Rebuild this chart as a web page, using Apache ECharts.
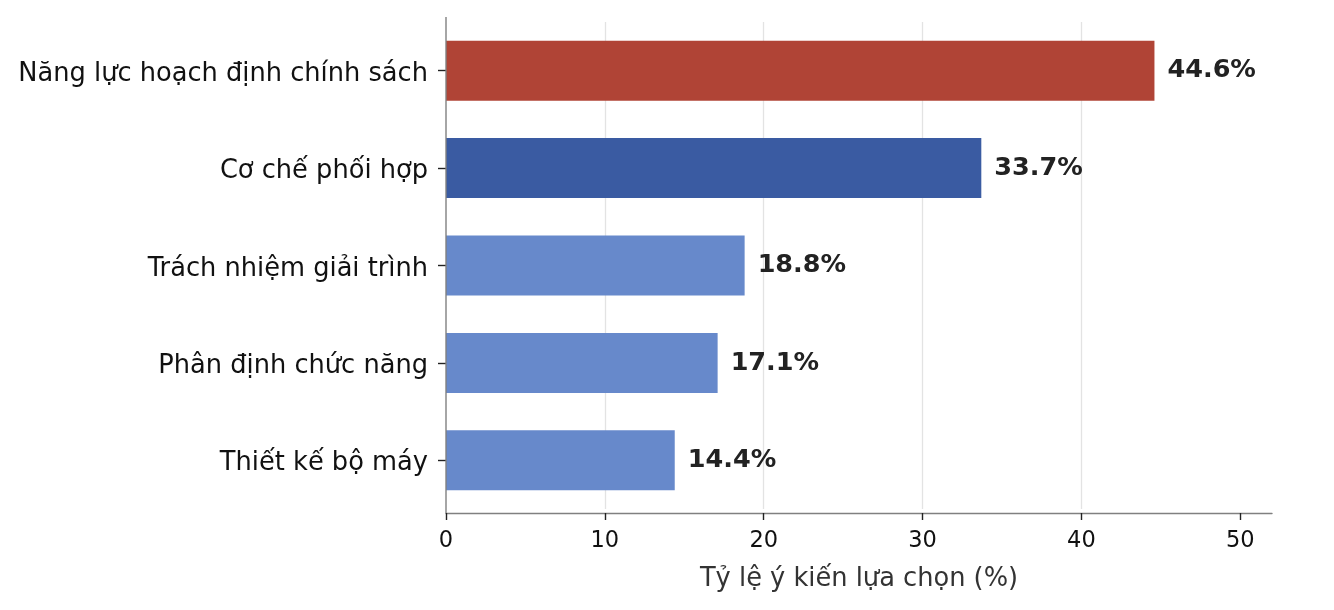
<!DOCTYPE html>
<html><head><meta charset="utf-8">
<script src="https://cdn.jsdelivr.net/npm/echarts@6/dist/echarts.min.js"></script>
<style>html,body{margin:0;padding:0;background:#fff}#c{width:1334px;height:610px}</style>
</head><body><div id="c"></div>
<script>
const categories = ["Năng lực hoạch định chính sách","Cơ chế phối hợp","Trách nhiệm giải trình","Phân định chức năng","Thiết kế bộ máy"];
const values = [44.6, 33.7, 18.8, 17.1, 14.4];
const barColors = ["#B04436","#3A5BA2","#6789CB","#6789CB","#6789CB"];
const xTicks = [0,10,20,30,40,50];
const xTitle = "Tỷ lệ ý kiến lựa chọn (%)";
const F = "DejaVu Sans";
const G = {left:446, right:62, top:22, bottom:101};
const chart = echarts.init(document.getElementById('c'), null, {renderer:'canvas'});
chart.setOption({
  animation:false,
  grid:{left:G.left, right:G.right, top:G.top, bottom:G.bottom, containLabel:false},
  xAxis:{type:'value', min:0, max:52, interval:10, offset:4,
    axisLine:{show:true, lineStyle:{color:'#808080', width:1.4}},
    axisTick:{show:true, length:7, customValues:xTicks, lineStyle:{color:'#222', width:1.4}},
    axisLabel:{color:'#111', fontFamily:F, fontSize:22.5, margin:17, customValues:xTicks},
    splitLine:{show:true, showMaxLine:false, showMinLine:false, lineStyle:{color:'#e3e3e3', width:1.3}},
    name:xTitle, nameLocation:'middle', nameGap:53,
    nameTextStyle:{color:'#333', fontFamily:F, fontSize:25.7}
  },
  yAxis:{type:'category', data:categories, inverse:true,
    axisLine:{show:false},
    axisTick:{show:true, alignWithLabel:true, length:8, lineStyle:{color:'#222', width:1.4}},
    axisLabel:{margin:18, formatter:v=>'{a|'+v+'}',
      rich:{a:{color:'#111', fontFamily:F, fontSize:25.7, padding:[7,0,0,0]}}}
  },
  graphic:[{type:'line', z:10, silent:true,
    shape:{x1:G.left, y1:G.top-5, x2:G.left, y2:610-G.bottom+4},
    style:{stroke:'#808080', lineWidth:1.4}}],
  series:[{type:'bar', barWidth:60,
    data: values.map((v,i)=>({value:v, itemStyle:{color:barColors[i]}})),
    label:{show:true, position:'right', distance:13, formatter:p=>p.value.toFixed(1)+'%',
      color:'#222', fontFamily:F, fontSize:25.5, fontWeight:'bold'}
  }]
});
</script></body></html>
